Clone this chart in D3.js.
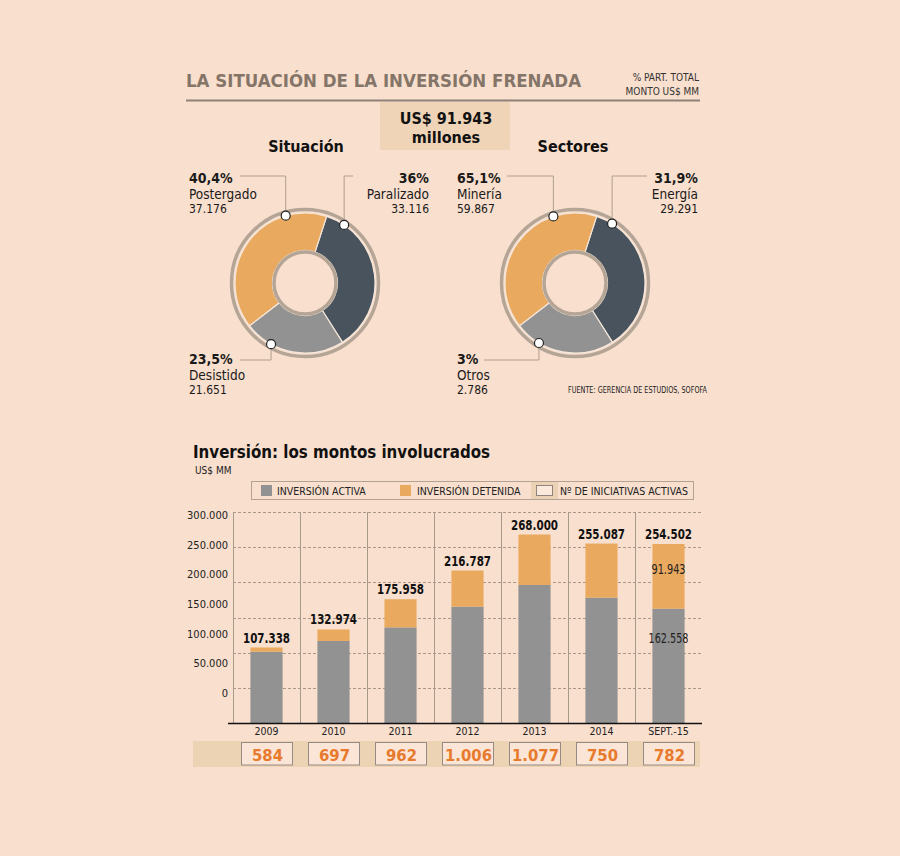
<!DOCTYPE html>
<html>
<head>
<meta charset="utf-8">
<script src="https://cdn.jsdelivr.net/npm/d3@7"></script>
<style>
  body { margin: 0; background: #f9dfcd; }
  svg text { font-family: "DejaVu Sans Condensed", "DejaVu Sans", sans-serif; font-stretch: condensed; }
</style>
</head>
<body>
<div id="chart"></div>
<script>
// --- data ---
const situacionLabels = ['Paralizado', 'Desistido', 'Postergado'];
const situacionPct = [36, 23.5, 40.4];
const situacionPctText = ['36%', '23,5%', '40,4%'];
const situacionMonto = ['33.116', '21.651', '37.176'];

const sectoresLabels = ['Energía', 'Otros', 'Minería'];
const sectoresPctText = ['31,9%', '3%', '65,1%'];
const sectoresMonto = ['29.291', '2.786', '59.867'];
// the reference draws this donut with the same arcs as the left one
const sectoresArc = [36, 23.5, 40.4];

const years = ['2009', '2010', '2011', '2012', '2013', '2014', 'SEPT.-15'];
const activa = [101400, 116600, 136000, 165400, 196200, 178200, 162558];
const detenida = [5938, 16374, 39958, 51387, 71800, 76887, 91943];
const totalLabels = ['107.338', '132.974', '175.958', '216.787', '268.000', '255.087', '254.502'];
const iniciativas = [584, 697, 962, 1006, 1077, 750, 782];
const yTicks = [0, 50000, 100000, 150000, 200000, 250000, 300000];

const colors = { dark: '#48535d', gray: '#929292', orange: '#e9a95f', ring: '#b5a596', title: '#857569', tan: '#efd4b7', bg: '#f9dfcd' };
const sliceColors = [colors.dark, colors.gray, colors.orange];

const loc = d3.formatLocale({ decimal: ',', thousands: '.', grouping: [3], currency: ['$', ''] });
const fmt = loc.format(',d');

const width = 900, height = 856;
const svg = d3.select('#chart').append('svg')
  .attr('width', width)
  .attr('height', height);

svg.append('rect').attr('width', width).attr('height', height).attr('fill', colors.bg);

// header
svg.append('text')
  .attr('x', 186).attr('y', 87)
  .attr('font-size', 18).attr('font-weight', 'bold')
  .attr('fill', colors.title)
  .attr('textLength', 395).attr('lengthAdjust', 'spacingAndGlyphs')
  .text('LA SITUACIÓN DE LA INVERSIÓN FRENADA');

svg.append('text').attr('x', 699).attr('y', 81).attr('text-anchor', 'end')
  .attr('font-size', 10).attr('fill', '#333').text('% PART. TOTAL');
svg.append('text').attr('x', 699).attr('y', 95).attr('text-anchor', 'end')
  .attr('font-size', 10).attr('fill', '#333').text('MONTO US$ MM');

svg.append('line')
  .attr('x1', 186).attr('x2', 700).attr('y1', 100.5).attr('y2', 100.5)
  .attr('stroke', '#8d8178').attr('stroke-width', 2);

svg.append('rect').attr('x', 380).attr('y', 102).attr('width', 130).attr('height', 48).attr('fill', colors.tan);
svg.append('text').attr('x', 446).attr('y', 124).attr('text-anchor', 'middle')
  .attr('font-size', 16).attr('font-weight', 'bold').attr('fill', '#111').text('US$ 91.943');
svg.append('text').attr('x', 446).attr('y', 143).attr('text-anchor', 'middle')
  .attr('font-size', 16).attr('font-weight', 'bold').attr('fill', '#111').text('millones');

svg.append('text').attr('x', 306).attr('y', 152).attr('text-anchor', 'middle')
  .attr('font-size', 16).attr('font-weight', 'bold').attr('fill', '#111').text('Situación');
svg.append('text').attr('x', 573).attr('y', 152).attr('text-anchor', 'middle')
  .attr('font-size', 16).attr('font-weight', 'bold').attr('fill', '#111').text('Sectores');

// donuts
const pie = d3.pie().sort(null).value(d => d)
  .startAngle(18 * Math.PI / 180).endAngle(378 * Math.PI / 180);
const arc = d3.arc().innerRadius(32.5).outerRadius(70);

const drawDonut = (cx, cy, arcValues, labels, pctText, monto, callouts) => {
  const g = svg.append('g').attr('transform', `translate(${cx},${cy})`);

  g.append('circle').attr('r', 73.5).attr('fill', 'none')
    .attr('stroke', colors.ring).attr('stroke-width', 3.5);

  g.selectAll('path')
    .data(pie(arcValues))
    .enter()
    .append('path')
    .attr('d', arc)
    .attr('fill', (d, i) => sliceColors[i])
    .attr('stroke', '#f4e6da')
    .attr('stroke-width', 1.2);

  g.append('circle').attr('r', 31).attr('fill', colors.bg)
    .attr('stroke', colors.ring).attr('stroke-width', 3.5);

  callouts.forEach((c, i) => {
    const a = c.angle * Math.PI / 180;
    const px = Math.sin(a) * 70, py = -Math.cos(a) * 70;
    g.append('path')
      .attr('d', `M${px},${py} V${c.lineY - cy} H${c.lineX - cx}`)
      .attr('fill', 'none').attr('stroke', '#b09e90').attr('stroke-width', 1);
    g.append('circle').attr('cx', px).attr('cy', py).attr('r', 4.5)
      .attr('fill', '#fff').attr('stroke', '#222').attr('stroke-width', 1.2);

    svg.append('text')
      .attr('x', c.textX).attr('y', c.textY).attr('text-anchor', c.anchor)
      .attr('font-size', 14).attr('font-weight', 'bold').attr('fill', '#1a1a1a')
      .text(pctText[i]);
    svg.append('text')
      .attr('x', c.textX).attr('y', c.textY + 15.5).attr('text-anchor', c.anchor)
      .attr('font-size', 13.5).attr('fill', '#1a1a1a')
      .text(labels[i]);
    svg.append('text')
      .attr('x', c.textX).attr('y', c.textY + 30).attr('text-anchor', c.anchor)
      .attr('font-size', 12).attr('fill', '#1a1a1a')
      .text(monto[i]);
  });
};

drawDonut(305, 283, situacionPct, situacionLabels, situacionPctText, situacionMonto, [
  { angle: 34, lineY: 176, lineX: 353, textX: 429, textY: 183, anchor: 'end' },
  { angle: 209, lineY: 360, lineX: 240, textX: 189, textY: 364, anchor: 'start' },
  { angle: 344, lineY: 176, lineX: 240, textX: 189, textY: 183, anchor: 'start' }
]);

drawDonut(575, 283, sectoresArc, sectoresLabels, sectoresPctText, sectoresMonto, [
  { angle: 32, lineY: 176, lineX: 647, textX: 698, textY: 183, anchor: 'end' },
  { angle: 211, lineY: 360, lineX: 484, textX: 457, textY: 364, anchor: 'start' },
  { angle: 342, lineY: 176, lineX: 507, textX: 457, textY: 183, anchor: 'start' }
]);

svg.append('text').attr('x', 568).attr('y', 393)
  .attr('font-size', 9.5).attr('fill', '#222')
  .attr('textLength', 139).attr('lengthAdjust', 'spacingAndGlyphs')
  .text('FUENTE: GERENCIA DE ESTUDIOS, SOFOFA');

// bar chart
svg.append('text').attr('x', 193).attr('y', 458)
  .attr('font-size', 18).attr('font-weight', 'bold').attr('fill', '#111')
  .attr('textLength', 297).attr('lengthAdjust', 'spacingAndGlyphs')
  .text('Inversión: los montos involucrados');
svg.append('text').attr('x', 195).attr('y', 474)
  .attr('font-size', 10).attr('fill', '#222').text('US$ MM');

// legend
const lg = svg.append('g');
lg.append('rect').attr('x', 251.5).attr('y', 481.5).attr('width', 442).attr('height', 18)
  .attr('fill', 'none').attr('stroke', '#b3a292');
lg.append('rect').attr('x', 261).attr('y', 485).attr('width', 11).attr('height', 11).attr('fill', colors.gray);
lg.append('text').attr('x', 277).attr('y', 495).attr('font-size', 10.5).attr('fill', '#222').text('INVERSIÓN ACTIVA');
lg.append('rect').attr('x', 400).attr('y', 485).attr('width', 11).attr('height', 11).attr('fill', colors.orange);
lg.append('text').attr('x', 417).attr('y', 495).attr('font-size', 10.5).attr('fill', '#222').text('INVERSIÓN DETENIDA');
lg.append('rect').attr('x', 531).attr('y', 482).attr('width', 27).attr('height', 17).attr('fill', '#ebd2b4');
lg.append('rect').attr('x', 536.5).attr('y', 485.5).attr('width', 16).attr('height', 10)
  .attr('fill', '#fbe9dc').attr('stroke', '#8f857e');
lg.append('text').attr('x', 560).attr('y', 495).attr('font-size', 10.5).attr('fill', '#222').text('Nº DE INICIATIVAS ACTIVAS');

const chartLeft = 233, chartRight = 702, chartTop = 512, chartBottom = 723;

const xScale = d3.scaleBand()
  .domain(years)
  .range([chartLeft, chartRight])
  .paddingInner(0.52)
  .paddingOuter(0.26);
const step = xScale.step();
const bandLeft = d => xScale(d) - (step - xScale.bandwidth()) / 2;

const yScale = d3.scaleLinear()
  .domain([0, 300000])
  .range([chartBottom, chartTop]);

// tick labels sit on their own (shifted) scale in the reference
const yLabelScale = d3.scaleLinear()
  .domain([0, 300000])
  .range([693, 515]);

// gridlines
svg.append('g')
  .selectAll('line')
  .data(yTicks.slice(1))
  .enter()
  .append('line')
  .attr('x1', chartLeft).attr('x2', chartRight)
  .attr('y1', d => Math.round(yScale(d)) + 0.5).attr('y2', d => Math.round(yScale(d)) + 0.5)
  .attr('stroke', '#a8998b').attr('stroke-dasharray', '3,2');

// vertical separators
svg.append('g')
  .selectAll('line')
  .data(years)
  .enter()
  .append('line')
  .attr('x1', d => Math.round(bandLeft(d)) + 0.5).attr('x2', d => Math.round(bandLeft(d)) + 0.5)
  .attr('y1', chartTop).attr('y2', chartBottom)
  .attr('stroke', '#a8998b');

// y-axis labels
const yAxis = svg.append('g')
  .attr('transform', `translate(${chartLeft - 5}, 0)`)
  .call(d3.axisLeft(yLabelScale).tickValues(yTicks).tickFormat(fmt).tickSize(0).tickPadding(0));
yAxis.select('.domain').remove();
yAxis.selectAll('text').attr('font-size', 11).attr('fill', '#222')
  .style('font-family', '"DejaVu Sans Condensed", "DejaVu Sans", sans-serif');

// bars
svg.append('g')
  .selectAll('rect')
  .data(years)
  .enter()
  .append('rect')
  .attr('x', d => xScale(d))
  .attr('y', (d, i) => yScale(activa[i]))
  .attr('width', xScale.bandwidth())
  .attr('height', (d, i) => chartBottom - yScale(activa[i]))
  .attr('fill', colors.gray);

svg.append('g')
  .selectAll('rect')
  .data(years)
  .enter()
  .append('rect')
  .attr('x', d => xScale(d))
  .attr('y', (d, i) => yScale(activa[i] + detenida[i]))
  .attr('width', xScale.bandwidth())
  .attr('height', (d, i) => yScale(activa[i]) - yScale(activa[i] + detenida[i]))
  .attr('fill', colors.orange);

// total labels
svg.append('g')
  .selectAll('text')
  .data(years)
  .enter()
  .append('text')
  .attr('x', d => xScale(d) + xScale.bandwidth() / 2)
  .attr('y', (d, i) => yScale(activa[i] + detenida[i]) - 5)
  .attr('text-anchor', 'middle')
  .attr('font-size', 13.5).attr('font-weight', 'bold').attr('fill', '#111')
  .attr('textLength', 47).attr('lengthAdjust', 'spacingAndGlyphs')
  .text((d, i) => totalLabels[i]);

// values inside the last bar
const last = years.length - 1;
const lastX = xScale(years[last]) + xScale.bandwidth() / 2;
svg.append('text').attr('x', lastX)
  .attr('y', yScale(activa[last] + detenida[last] * 0.62) + 5)
  .attr('text-anchor', 'middle').attr('font-size', 13.5).attr('fill', '#222')
  .attr('textLength', 34).attr('lengthAdjust', 'spacingAndGlyphs')
  .text(fmt(detenida[last]));
svg.append('text').attr('x', lastX)
  .attr('y', yScale(activa[last] * 0.74) + 5)
  .attr('text-anchor', 'middle').attr('font-size', 13.5).attr('fill', '#222')
  .attr('textLength', 40).attr('lengthAdjust', 'spacingAndGlyphs')
  .text(fmt(activa[last]));

// baseline
svg.append('line')
  .attr('x1', chartLeft - 5).attr('x2', chartRight)
  .attr('y1', chartBottom + 0.5).attr('y2', chartBottom + 0.5)
  .attr('stroke', '#111').attr('stroke-width', 1.5);

// x labels
svg.append('g')
  .attr('transform', `translate(0, ${chartBottom})`)
  .call(d3.axisBottom(xScale).tickSize(0).tickPadding(5))
  .call(g => g.select('.domain').remove())
  .selectAll('text')
  .attr('font-size', 10.5).attr('fill', '#222')
  .style('font-family', '"DejaVu Sans Condensed", "DejaVu Sans", sans-serif');

// iniciativas strip
svg.append('rect').attr('x', 193).attr('y', 741).attr('width', 507).attr('height', 26).attr('fill', '#ecd3b4');

const boxW = 51;
svg.append('g')
  .selectAll('rect')
  .data(years)
  .enter()
  .append('rect')
  .attr('x', d => xScale(d) + xScale.bandwidth() / 2 - boxW / 2 + 0.5)
  .attr('y', 742.5)
  .attr('width', boxW).attr('height', 22.5)
  .attr('fill', '#fbe5d6').attr('stroke', '#968b84');

svg.append('g')
  .selectAll('text')
  .data(years)
  .enter()
  .append('text')
  .attr('x', d => xScale(d) + xScale.bandwidth() / 2 + 1)
  .attr('y', 760.5)
  .attr('text-anchor', 'middle')
  .attr('font-size', 16.5).attr('font-weight', 'bold').attr('fill', '#e77a2d')
  .text((d, i) => fmt(iniciativas[i]));
</script>
</body>
</html>
